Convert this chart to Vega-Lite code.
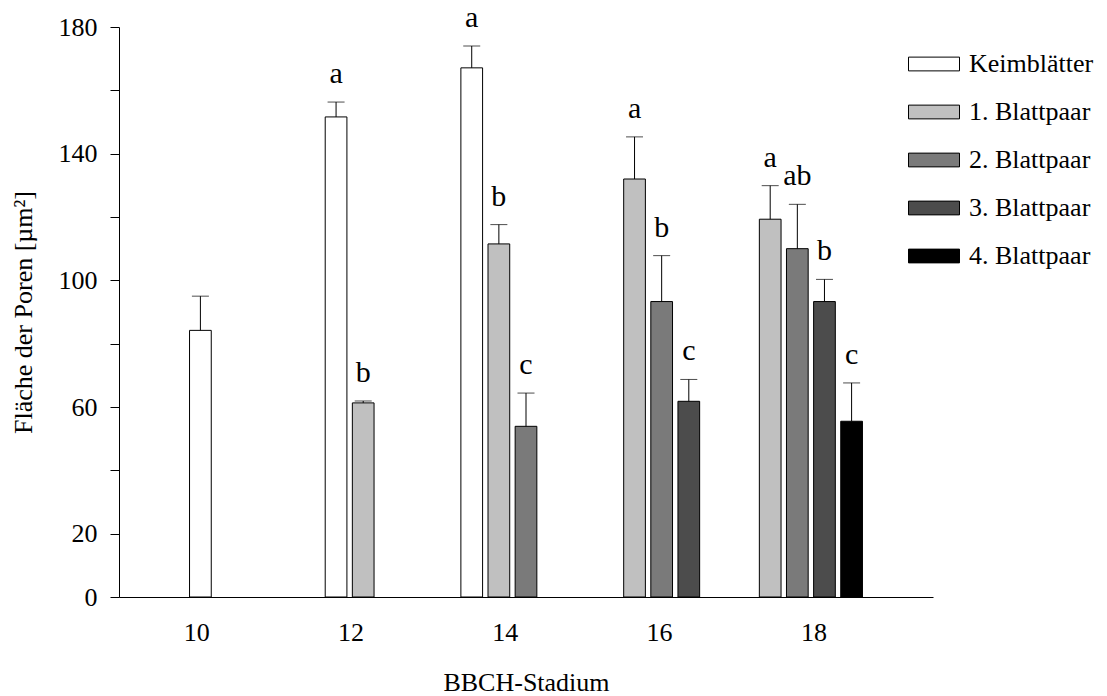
{
  "$schema": "https://vega.github.io/schema/vega-lite/v6.json",
  "width": 814,
  "height": 570,
  "autosize": {"type": "none"},
  "padding": {"left": 119, "top": 27, "right": 174, "bottom": 99},
  "background": "white",
  "config": {
    "font": "Liberation Serif",
    "view": {"stroke": null},
    "axis": {
      "labelFont": "Liberation Serif",
      "titleFont": "Liberation Serif",
      "labelColor": "black",
      "titleColor": "black",
      "domainColor": "black",
      "tickColor": "black",
      "domainWidth": 1,
      "tickWidth": 1,
      "grid": false,
      "labelFontSize": 26,
      "titleFontSize": 26,
      "titleFontWeight": "normal"
    },
    "legend": {
      "labelFont": "Liberation Serif",
      "labelFontSize": 26,
      "labelColor": "black"
    }
  },
  "data": {
    "values": [
      {"stage": 10, "series": "Keimblätter", "mean": 84.2, "mean_plus_sd": 95.0, "letter": ""},
      {"stage": 12, "series": "Keimblätter", "mean": 151.6, "mean_plus_sd": 156.3, "letter": "a"},
      {"stage": 12, "series": "1. Blattpaar", "mean": 61.3, "mean_plus_sd": 61.9, "letter": "b"},
      {"stage": 14, "series": "Keimblätter", "mean": 167.1, "mean_plus_sd": 174.0, "letter": "a"},
      {"stage": 14, "series": "1. Blattpaar", "mean": 111.5, "mean_plus_sd": 117.6, "letter": "b"},
      {"stage": 14, "series": "2. Blattpaar", "mean": 53.9, "mean_plus_sd": 64.4, "letter": "c"},
      {"stage": 16, "series": "1. Blattpaar", "mean": 132.0, "mean_plus_sd": 145.3, "letter": "a"},
      {"stage": 16, "series": "2. Blattpaar", "mean": 93.3, "mean_plus_sd": 107.8, "letter": "b"},
      {"stage": 16, "series": "3. Blattpaar", "mean": 61.8, "mean_plus_sd": 68.7, "letter": "c"},
      {"stage": 18, "series": "1. Blattpaar", "mean": 119.3, "mean_plus_sd": 129.9, "letter": "a"},
      {"stage": 18, "series": "2. Blattpaar", "mean": 110.0, "mean_plus_sd": 124.0, "letter": "ab"},
      {"stage": 18, "series": "3. Blattpaar", "mean": 93.3, "mean_plus_sd": 100.3, "letter": "b"},
      {"stage": 18, "series": "4. Blattpaar", "mean": 55.5, "mean_plus_sd": 67.6, "letter": "c"}
    ]
  },
  "layer": [
    {
      "encoding": {
        "x": {
          "field": "stage",
          "type": "ordinal",
          "scale": {"paddingInner": 0, "paddingOuter": 0.5},
          "axis": null
        },
        "xOffset": {
          "field": "series",
          "type": "nominal",
          "scale": {
            "domain": ["Keimblätter", "1. Blattpaar", "2. Blattpaar", "3. Blattpaar", "4. Blattpaar"],
            "paddingInner": 0.2,
            "paddingOuter": 0.1
          }
        }
      },
      "layer": [
        {
          "mark": {"type": "bar", "stroke": "black", "strokeWidth": 1},
          "encoding": {
            "y": {
              "field": "mean",
              "type": "quantitative",
              "scale": {"domain": [0, 180], "nice": false},
              "axis": {
                "title": "Fläche der Poren [µm²]",
                "values": [0, 20, 40, 60, 80, 100, 120, 140, 160, 180],
                "labelExpr": "indexof([0, 20, 60, 100, 140, 180], datum.value) >= 0 ? datum.label : ''",
                "tickSize": 9,
                "labelPadding": 13,
                "titlePadding": 22
              }
            },
            "fill": {
              "field": "series",
              "type": "nominal",
              "scale": {
                "domain": ["Keimblätter", "1. Blattpaar", "2. Blattpaar", "3. Blattpaar", "4. Blattpaar"],
                "range": ["white", "#c0c0c0", "#7a7a7a", "#4c4c4c", "black"]
              },
              "legend": {
                "title": null,
                "orient": "none",
                "legendX": 789,
                "legendY": 13,
                "padding": 0,
                "symbolType": "M-1,-0.27H1V0.27H-1Z",
                "symbolSize": 2601,
                "symbolStrokeColor": "black",
                "symbolStrokeWidth": 1,
                "symbolOpacity": 1,
                "labelOffset": 9,
                "clipHeight": 48,
                "rowPadding": 0
              }
            }
          }
        },
        {
          "mark": {"type": "rule", "color": "black", "strokeWidth": 1},
          "encoding": {
            "y": {"field": "mean", "type": "quantitative"},
            "y2": {"field": "mean_plus_sd"}
          }
        },
        {
          "mark": {"type": "tick", "color": "black", "thickness": 1, "size": 17, "orient": "horizontal"},
          "encoding": {
            "y": {"field": "mean_plus_sd", "type": "quantitative"}
          }
        },
        {
          "transform": [{"filter": "datum.letter != ''"}],
          "mark": {"type": "text", "fontSize": 30, "baseline": "alphabetic", "dy": -19, "font": "Liberation Serif", "color": "black"},
          "encoding": {
            "y": {"field": "mean_plus_sd", "type": "quantitative"},
            "text": {"field": "letter"}
          }
        }
      ]
    },
    {
      "mark": {"type": "point", "opacity": 0},
      "encoding": {
        "x": {
          "field": "stage",
          "type": "quantitative",
          "scale": {"domain": [9.0, 19.55], "nice": false, "zero": false},
          "axis": {
            "orient": "bottom",
            "title": "BBCH-Stadium",
            "values": [10, 12, 14, 16, 18],
            "format": "d",
            "ticks": false,
            "tickSize": 0,
            "labelPadding": 22,
            "titlePadding": 24
          }
        }
      }
    }
  ],
  "resolve": {"scale": {"x": "independent"}}
}
